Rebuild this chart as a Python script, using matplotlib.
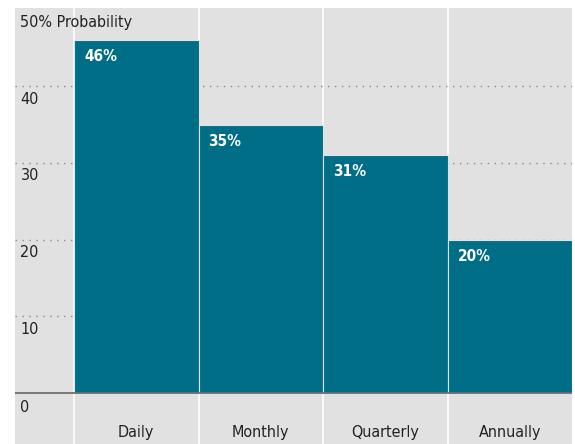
import matplotlib
matplotlib.use("Agg")
import matplotlib.pyplot as plt
from matplotlib import font_manager

categories = ["Daily", "Monthly", "Quarterly", "Annually"]
values = [46, 35, 31, 20]
value_labels = ["46%", "35%", "31%", "20%"]
yticks = [0, 10, 20, 30, 40]
ytick_labels = ["0", "10", "20", "30", "40"]
top_label = "50% Probability"

names = sorted({f.name + " | " + str(f.stretch) for f in font_manager.fontManager.ttflist})
print("\n".join(names))

plt.rcParams['font.family'] = ['DejaVu Sans']
plt.rcParams['font.stretch'] = 'condensed'

W, H = 575, 444
fig = plt.figure(figsize=(W / 100, H / 100), dpi=100)
fig.patch.set_facecolor("white")
ax = fig.add_axes([15 / W, 0, 557 / W, 436 / H])
ax.set_facecolor("#e1e1e1")

x = list(range(len(categories)))
ax.set_xlim(-0.974, 3.5)
ax.set_ylim(-6.65, 50.2)

for xv in [-0.5, 0.5, 1.5, 2.5]:
    ax.axvline(xv, color="white", lw=1.2, zorder=1)

for yv in yticks[1:]:
    ax.axhline(yv, color="#8a8a8a", lw=1.0, ls=(0, (1, 4)), zorder=1)

ax.bar(x, values, width=1.0, color="#006e87", edgecolor="#d8e6ea",
       linewidth=0.8, zorder=2)

ax.axhline(0, color="#6e6e6e", lw=1.3, zorder=3)

txt = "#222222"
for yv, lab in zip(yticks, ytick_labels):
    if yv == 0:
        ax.text(-0.93, -0.9, lab, ha="left", va="top", fontsize=11.5, color=txt)
    else:
        ax.text(-0.93, yv - 0.7, lab, ha="left", va="top", fontsize=11.5, color=txt)
ax.text(-0.93, 49.3, top_label, ha="left", va="top", fontsize=11.5, color=txt)

for xi, v, lab in zip(x, values, value_labels):
    ax.text(xi - 0.42, v - 1.2, lab, ha="left", va="top", fontsize=11,
            color="white", fontweight="bold", zorder=4)

for xi, c in zip(x, categories):
    ax.text(xi, -5.1, c, ha="center", va="center", fontsize=11.5, color=txt)

ax.set_xticks([])
ax.set_yticks([])
for s in ax.spines.values():
    s.set_visible(False)

fig.savefig("out.png", dpi=100)
